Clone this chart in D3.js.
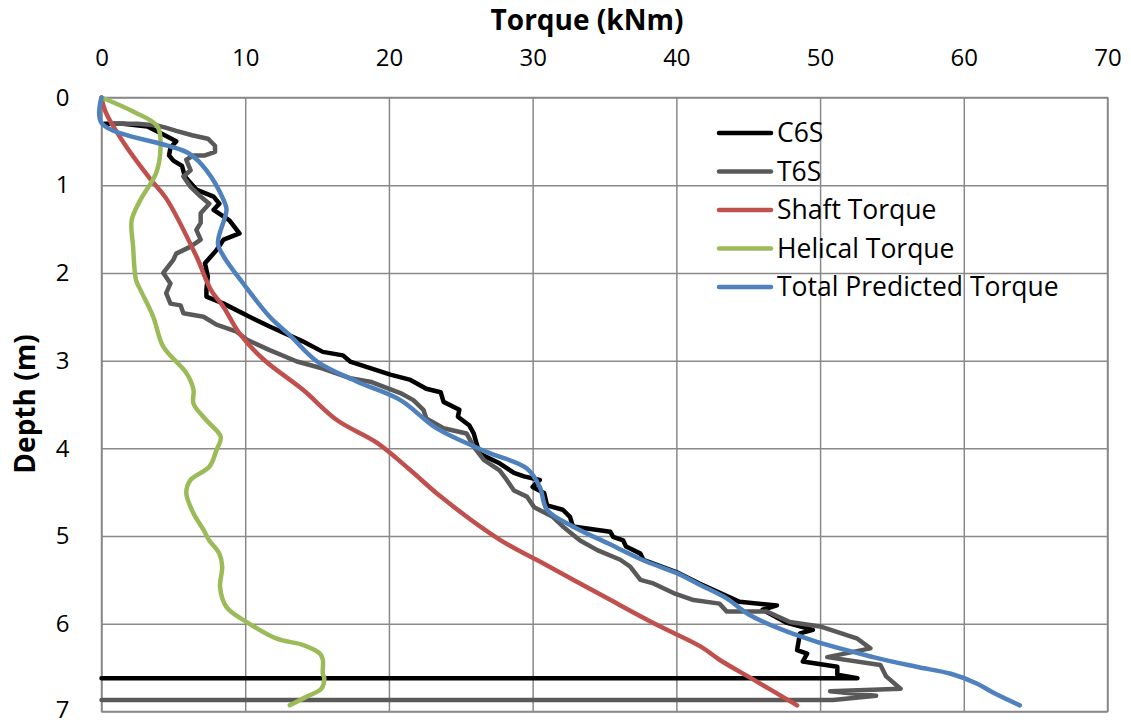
<!DOCTYPE html>
<html>
<head>
<meta charset="utf-8">
<script src="https://cdn.jsdelivr.net/npm/d3@7"></script>
<style>
  body { margin: 0; background: #fff; }
  text { font-family: "Open Sans", Lato, sans-serif; fill: #000; }
</style>
</head>
<body>
<div id="chart"></div>
<script>
// Torque vs depth (torque on top axis, depth downwards)
const xTicks = [0, 10, 20, 30, 40, 50, 60, 70];
const yTicks = [0, 1, 2, 3, 4, 5, 6, 7];
const seriesNames = ["C6S", "T6S", "Shaft Torque", "Helical Torque", "Total Predicted Torque"];

// each point: [torque kNm, depth m]
const c6s = [[0.2,0.30],[1.5,0.30],[3.2,0.33],[4.5,0.44],[5.2,0.50],[4.8,0.57],[4.7,0.66],[5.0,0.72],[5.6,0.78],
  [5.8,0.90],[6.6,1.05],[7.8,1.13],[8.2,1.21],[7.8,1.28],[8.9,1.40],[9.6,1.55],[8.5,1.62],[8.0,1.74],[7.2,1.89],
  [7.4,2.04],[7.3,2.19],[7.3,2.27],[8.5,2.35],[10.3,2.50],[11.7,2.61],[14.0,2.78],[15.4,2.90],[16.8,2.94],
  [17.3,3.01],[20.1,3.16],[21.5,3.22],[22.6,3.32],[23.6,3.36],[23.8,3.47],[24.9,3.56],[24.8,3.64],[25.6,3.74],
  [25.9,3.83],[26.3,4.06],[27.7,4.17],[28.7,4.28],[29.4,4.32],[30.5,4.36],[30.0,4.44],[30.8,4.51],[31.0,4.65],
  [32.1,4.70],[32.6,4.78],[32.8,4.89],[35.4,4.95],[35.6,5.01],[36.3,5.05],[36.5,5.12],[37.5,5.20],[37.7,5.27],
  [40.0,5.41],[41.6,5.54],[44.4,5.75],[47.0,5.79],[46.0,5.84],[47.7,5.99],[49.5,6.07],[48.6,6.11],[48.4,6.30],
  [49.1,6.34],[48.8,6.43],[51.2,6.49],[51.2,6.58],[52.6,6.62],[0,6.62]];

const t6s = [[0.7,0.30],[2.5,0.30],[3.9,0.32],[4.4,0.34],[5.2,0.38],[6.3,0.43],[7.4,0.47],[7.9,0.55],[7.9,0.62],
  [7.2,0.66],[6.4,0.66],[5.9,0.71],[6.2,0.83],[5.7,0.90],[6.2,1.02],[6.9,1.13],[7.5,1.21],[6.9,1.32],[6.9,1.43],
  [6.6,1.51],[6.9,1.62],[6.2,1.70],[5.2,1.78],[5.0,1.85],[4.3,2.00],[4.8,2.12],[4.5,2.23],[4.8,2.35],[5.5,2.37],
  [5.7,2.46],[7.1,2.50],[8.0,2.59],[9.4,2.67],[10.1,2.76],[11.7,2.88],[13.6,3.01],[15.4,3.09],[17.3,3.20],
  [18.7,3.24],[20.8,3.37],[21.7,3.45],[22.4,3.56],[22.6,3.66],[23.8,3.77],[25.4,3.83],[25.9,3.98],[26.6,4.13],
  [27.7,4.25],[28.2,4.36],[28.7,4.48],[29.6,4.55],[30.1,4.67],[31.4,4.78],[32.1,4.89],[33.3,5.05],[34.5,5.16],
  [36.1,5.27],[36.8,5.35],[37.5,5.50],[38.4,5.54],[39.8,5.65],[41.2,5.73],[43.0,5.77],[43.5,5.86],[46.3,5.86],
  [47.9,5.98],[50.0,6.03],[52.6,6.17],[53.5,6.28],[50.5,6.38],[54.2,6.47],[54.6,6.60],[55.6,6.74],[50.7,6.77],
  [53.9,6.82],[50.9,6.87],[0,6.87]];

const shaft = [[0,0],[0.3,0.17],[1.6,0.53],[3.4,0.93],[4.5,1.15],[6.6,1.81],[7.6,2.19],[8.5,2.39],[9.6,2.69],
  [11.3,2.99],[14.0,3.33],[16.4,3.68],[19.2,3.94],[21.5,4.25],[23.6,4.55],[27.7,5.04],[30.5,5.29],[35.2,5.71],
  [38.5,6.00],[41.7,6.26],[43.0,6.41],[45.4,6.64],[48.4,6.93]];

const helical = [[0,0],[2.2,0.16],[3.9,0.33],[4.1,0.60],[3.8,0.86],[2.7,1.17],[2.1,1.40],[2.2,1.70],[2.4,2.08],
  [2.7,2.19],[3.6,2.50],[4.3,2.84],[5.9,3.14],[6.4,3.33],[6.4,3.49],[7.3,3.68],[8.3,3.87],[8.0,4.02],[7.5,4.21],
  [6.2,4.36],[5.9,4.51],[6.4,4.74],[7.1,4.93],[7.5,5.05],[8.2,5.20],[8.4,5.35],[8.25,5.58],[8.7,5.81],[10.1,5.98],
  [12.2,6.17],[14.0,6.24],[15.2,6.34],[15.4,6.41],[15.4,6.57],[15.5,6.62],[15.3,6.74],[14.3,6.83],[13.1,6.93]];

const total = [[0,0],[0,0.29],[6.0,0.63],[7.3,0.83],[8.5,1.17],[8.7,1.28],[8.1,1.66],[8.5,1.81],[10.0,2.15],
  [11.7,2.50],[13.1,2.71],[15.0,3.01],[17.8,3.24],[20.8,3.45],[23.3,3.77],[26.8,4.04],[29.6,4.23],[30.5,4.44],
  [31.0,4.70],[32.8,4.89],[35.2,5.08],[37.9,5.29],[40.0,5.42],[41.7,5.56],[43.5,5.71],[45.1,5.90],[49.1,6.17],
  [53.7,6.38],[56.7,6.49],[59.1,6.57],[60.9,6.68],[62.1,6.79],[63.9,6.93]];

const width = 1131, height = 725;
const margin = ({ top: 97.5, right: 23.5, bottom: 13.5, left: 101.5 });

const svg = d3.select("#chart")
  .append("svg")
  .attr("width", width)
  .attr("height", height);

let x = d3.scaleLinear()
  .domain([0, 70])
  .range([margin.left, width - margin.right]);

let y = d3.scaleLinear()
  .domain([0, 7])
  .range([margin.top, height - margin.bottom]);

const gridColor = "#898989";

// top axis with grid
svg.append("g")
  .attr("transform", `translate(0,${margin.top})`)
  .call(d3.axisTop(x).tickValues(xTicks).tickFormat(d3.format("d"))
    .tickSize(-(height - margin.top - margin.bottom)).tickPadding(32))
  .call(g => g.select(".domain").remove())
  .call(g => g.selectAll("line").attr("stroke", gridColor).attr("stroke-width", 1.5))
  .call(g => g.selectAll("text").attr("font-size", 24).attr("fill", "#000"));

svg.append("g")
  .attr("transform", `translate(${margin.left},0)`)
  .call(d3.axisLeft(y).tickValues(yTicks).tickFormat(d3.format("d"))
    .tickSize(-(width - margin.left - margin.right)).tickPadding(32))
  .call(g => g.select(".domain").remove())
  .call(g => g.selectAll("line").attr("stroke", gridColor).attr("stroke-width", 1.5))
  .call(g => g.selectAll("text").attr("font-size", 24).attr("fill", "#000")
    .attr("dy", d => d === 7 ? "0.25em" : "0.32em"));

svg.append("rect")
  .attr("x", margin.left)
  .attr("y", margin.top)
  .attr("width", width - margin.left - margin.right)
  .attr("height", height - margin.top - margin.bottom)
  .attr("fill", "none")
  .attr("stroke", gridColor)
  .attr("stroke-width", 1.5);

svg.append("text")
  .attr("x", 587)
  .attr("y", 30)
  .attr("text-anchor", "middle")
  .attr("font-size", 28)
  .attr("font-weight", "bold")
  .text("Torque (kNm)");

svg.append("text")
  .attr("transform", "translate(35,404) rotate(-90)")
  .attr("text-anchor", "middle")
  .attr("font-size", 28)
  .attr("font-weight", "bold")
  .text("Depth (m)");

const series = [
  { name: seriesNames[0], data: c6s, color: "#000000", curve: d3.curveLinear },
  { name: seriesNames[1], data: t6s, color: "#595959", curve: d3.curveLinear },
  { name: seriesNames[2], data: shaft, color: "#c0504d", curve: d3.curveCatmullRom },
  { name: seriesNames[3], data: helical, color: "#9bbb59", curve: d3.curveCatmullRom },
  { name: seriesNames[4], data: total, color: "#4f81bd", curve: d3.curveCatmullRom }
];

for (let s of series) {
  let line = d3.line()
    .x(d => x(d[0]))
    .y(d => y(d[1]))
    .curve(s.curve);
  svg.append("path")
    .datum(s.data)
    .attr("d", line)
    .attr("fill", "none")
    .attr("stroke", s.color)
    .attr("stroke-width", 4.5)
    .attr("stroke-linejoin", "round")
    .attr("stroke-linecap", "round");
}

// legend
const legend = svg.append("g");
series.forEach((s, i) => {
  let ly = 133 + i * 38.5;
  legend.append("line")
    .attr("x1", 719).attr("x2", 771)
    .attr("y1", ly).attr("y2", ly)
    .attr("stroke", s.color)
    .attr("stroke-width", 4.5)
    .attr("stroke-linecap", "round");
  legend.append("text")
    .attr("x", 777)
    .attr("y", ly)
    .attr("dy", "0.35em")
    .attr("font-size", 26.5)
    .text(s.name);
});
</script>
</body>
</html>
